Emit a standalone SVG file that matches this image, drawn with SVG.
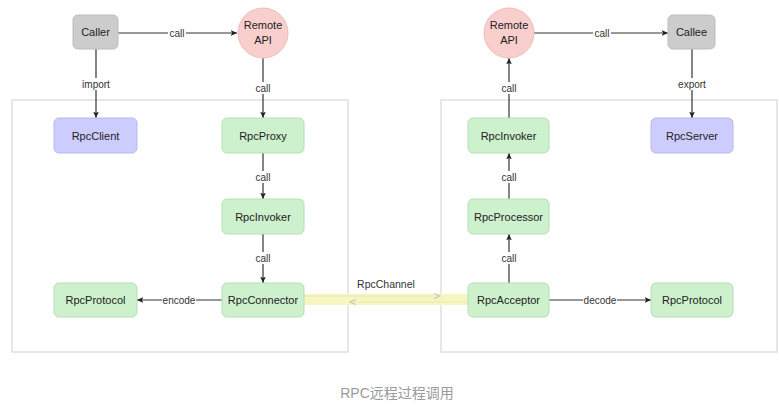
<svg xmlns="http://www.w3.org/2000/svg" width="779" height="410" viewBox="0 0 779 410">
<style>
text{font-family:"Liberation Sans",Arial,sans-serif;fill:#222;}
.n{font-size:11px;text-anchor:middle;dominant-baseline:central;}
.l{font-size:10px;text-anchor:middle;dominant-baseline:central;fill:#333;}
.green{fill:#cdf0cd;stroke:#b5e0b5;stroke-width:1;}
.purple{fill:#ccccff;stroke:#b8b8ee;stroke-width:1;}
.gray{fill:#cccccc;stroke:#bdbdbd;stroke-width:1;}
.pink{fill:#f9cfcd;stroke:#f0bcba;stroke-width:1;}
.e{stroke:#333;stroke-width:1.2;fill:none;marker-end:url(#a);}
.bg{fill:#fff;stroke:none;}
.box{fill:none;stroke:#d8d8d8;stroke-width:1.2;}
</style>
<defs>
<marker id="a" viewBox="0 0 10 10" refX="9" refY="5" markerWidth="7" markerHeight="7" orient="auto" markerUnits="userSpaceOnUse"><path d="M0,1 L9,5 L0,9 L2,5 z" fill="#222"/></marker>
<marker id="f" viewBox="0 0 10 10" refX="9" refY="5" markerWidth="7" markerHeight="7" orient="auto" markerUnits="userSpaceOnUse"><path d="M0,1 L9,5 L0,9" fill="none" stroke="#c8c8c8" stroke-width="1.5"/></marker>
</defs>
<rect width="779" height="410" fill="#fff"/>
<rect class="box" x="12" y="100" width="336" height="252"/>
<rect class="box" x="441" y="100" width="336" height="252"/>

<g id="connectors">
<rect x="304" y="294" width="164" height="11" fill="#f8f6c0"/>
<line x1="304" y1="296" x2="440" y2="296" stroke="#e6e4b0" stroke-width="0.8" marker-end="url(#f)"/>
<line x1="468" y1="302" x2="350" y2="302" stroke="#e6e4b0" stroke-width="0.8" marker-end="url(#f)"/>
<text class="l" x="386" y="284" style="font-size:10.5px">RpcChannel</text>

<line class="e" x1="118" y1="33" x2="237" y2="33"/>
<rect class="bg" x="168" y="27" width="18" height="12"/><text class="l" x="177" y="33">call</text>
<line class="e" x1="96" y1="49" x2="96" y2="118"/>
<rect class="bg" x="80" y="78" width="32" height="12"/><text class="l" x="96" y="84">import</text>
<line class="e" x1="263" y1="58" x2="263" y2="118"/>
<rect class="bg" x="254" y="82" width="18" height="12"/><text class="l" x="263" y="88">call</text>
<line class="e" x1="263" y1="153" x2="263" y2="199"/>
<rect class="bg" x="254" y="171" width="18" height="12"/><text class="l" x="263" y="177">call</text>
<line class="e" x1="263" y1="234" x2="263" y2="283"/>
<rect class="bg" x="254" y="252" width="18" height="12"/><text class="l" x="263" y="258">call</text>
<line class="e" x1="222" y1="300" x2="137" y2="300"/>
<rect class="bg" x="162" y="294" width="34" height="12"/><text class="l" x="179" y="300">encode</text>

<line class="e" x1="534" y1="33" x2="668" y2="33"/>
<rect class="bg" x="593" y="27" width="18" height="12"/><text class="l" x="602" y="33">call</text>
<line class="e" x1="692" y1="49" x2="692" y2="118"/>
<rect class="bg" x="675" y="78" width="34" height="12"/><text class="l" x="692" y="84">export</text>
<line class="e" x1="509" y1="118" x2="509" y2="58"/>
<rect class="bg" x="500" y="82" width="18" height="12"/><text class="l" x="509" y="88">call</text>
<line class="e" x1="509" y1="199" x2="509" y2="153"/>
<rect class="bg" x="500" y="171" width="18" height="12"/><text class="l" x="509" y="177">call</text>
<line class="e" x1="509" y1="283" x2="509" y2="234"/>
<rect class="bg" x="500" y="252" width="18" height="12"/><text class="l" x="509" y="258">call</text>
<line class="e" x1="549" y1="300" x2="651" y2="300"/>
<rect class="bg" x="583" y="294" width="34" height="12"/><text class="l" x="600" y="300">decode</text>
</g>

<g id="caller"><rect class="gray" x="73" y="15" width="45" height="34" rx="5"/><text class="n" x="95.5" y="32">Caller</text></g>
<g id="remote-api-left"><circle class="pink" cx="263" cy="33" r="25"/><text class="n" x="263" y="25">Remote</text><text class="n" x="263" y="40">API</text></g>
<g id="rpcclient"><rect class="purple" x="54" y="118" width="83" height="35" rx="5"/><text class="n" x="95.5" y="135.5">RpcClient</text></g>
<g id="rpcproxy"><rect class="green" x="222" y="118" width="82" height="35" rx="5"/><text class="n" x="263" y="135.5">RpcProxy</text></g>
<g id="rpcinvoker-left"><rect class="green" x="222" y="199" width="82" height="35" rx="5"/><text class="n" x="263" y="216.5">RpcInvoker</text></g>
<g id="rpcconnector"><rect class="green" x="222" y="283" width="82" height="34" rx="5"/><text class="n" x="263" y="300">RpcConnector</text></g>
<g id="rpcprotocol-left"><rect class="green" x="54" y="283" width="83" height="34" rx="5"/><text class="n" x="95.5" y="300">RpcProtocol</text></g>

<g id="remote-api-right"><circle class="pink" cx="509" cy="33" r="25"/><text class="n" x="509" y="25">Remote</text><text class="n" x="509" y="40">API</text></g>
<g id="callee"><rect class="gray" x="668" y="15" width="47" height="34" rx="5"/><text class="n" x="691.5" y="32">Callee</text></g>
<g id="rpcinvoker-right"><rect class="green" x="468" y="118" width="81" height="35" rx="5"/><text class="n" x="508.5" y="135.5">RpcInvoker</text></g>
<g id="rpcserver"><rect class="purple" x="651" y="118" width="82" height="35" rx="5"/><text class="n" x="692" y="135.5">RpcServer</text></g>
<g id="rpcprocessor"><rect class="green" x="468" y="199" width="81" height="35" rx="5"/><text class="n" x="508.5" y="216.5">RpcProcessor</text></g>
<g id="rpcacceptor"><rect class="green" x="468" y="283" width="81" height="34" rx="5"/><text class="n" x="508.5" y="300">RpcAcceptor</text></g>
<g id="rpcprotocol-right"><rect class="green" x="651" y="283" width="82" height="34" rx="5"/><text class="n" x="692" y="300">RpcProtocol</text></g>

<text x="397" y="393" style="font-family:'Liberation Sans','Noto Sans CJK SC',sans-serif;font-size:14px;fill:#9a9a9a;text-anchor:middle;dominant-baseline:central">RPC远程过程调用</text>
</svg>
